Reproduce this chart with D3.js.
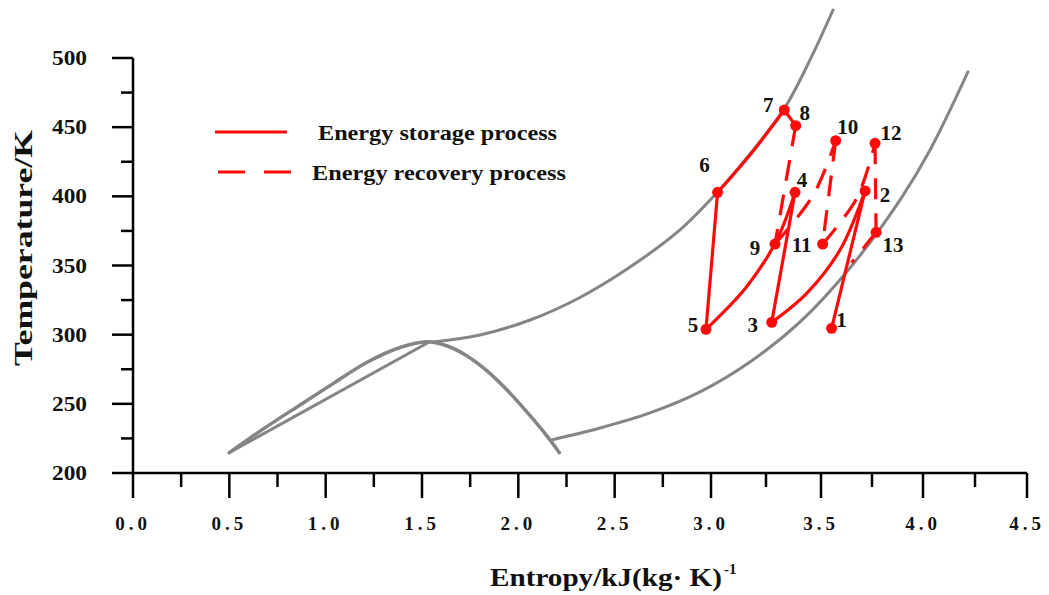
<!DOCTYPE html>
<html><head><meta charset="utf-8">
<script src="https://cdn.jsdelivr.net/npm/d3@7/dist/d3.min.js"></script>
<style>body{margin:0;background:#fff;} svg{display:block;}</style>
</head><body>
<script>
// ---- data ----
const xTicks = [0, 0.5, 1.0, 1.5, 2.0, 2.5, 3.0, 3.5, 4.0, 4.5];
const yTicks = [200, 250, 300, 350, 400, 450, 500];
// state points
const stateIds = ["1","2","3","4","5","6","7","8","9","10","11","12","13"];
const stateS = [3.552, 3.716, 3.276, 3.382, 2.974, 3.030, 3.333, 3.385, 3.291, 3.572, 3.508, 3.765, 3.770];
const stateT = [304.6, 403.9, 308.9, 402.9, 303.9, 402.9, 462.4, 451.1, 365.5, 440.2, 365.5, 438.3, 374.0];
// energy storage process (solid) paths: lists of [s,T]
const storagePaths = [
  [[3.552,304.6],[3.716,403.9]],
  [[3.716,403.9],[3.593,361.2],[3.435,329.9],[3.276,308.9]],
  [[3.276,308.9],[3.382,402.9]],
  [[3.382,402.9],[3.299,368.4],[3.162,334.7],[2.974,303.9]],
  [[2.974,303.9],[3.030,402.9]],
  [[3.030,402.9],[3.177,429.9],[3.333,462.4]],
  [[3.333,462.4],[3.385,451.1]]
];
// energy recovery process (dashed) paths
const recoveryPaths = [
  [[3.385,451.1],[3.291,365.5]],
  [[3.291,365.5],[3.465,401.0],[3.572,440.2]],
  [[3.572,440.2],[3.508,365.5]],
  [[3.508,365.5],[3.675,398.6],[3.765,438.3]],
  [[3.765,438.3],[3.770,374.0]],
  [[3.770,374.0],[3.650,352.0]]
];
// grey curves
const domeS = [0.500, 0.694, 0.867, 1.040, 1.213, 1.386, 1.524, 1.628, 1.732, 1.836, 1.940, 2.043, 2.147, 2.213];
const domeT = [214.7, 233.5, 249.2, 264.8, 279.9, 290.7, 294.9, 292.0, 284.8, 274.0, 260.2, 244.3, 227.0, 214.7];
const chordS = [0.500, 1.540];
const chordT = [214.7, 294.9];
const upperS = [1.557, 1.801, 2.061, 2.320, 2.580, 2.839, 3.030, 3.177, 3.332, 3.450, 3.559];
const upperT = [294.7, 299.8, 310.6, 326.9, 348.9, 375.7, 403.1, 430.6, 463.1, 498.6, 534.7];
const lowerS = [2.173, 2.424, 2.683, 2.943, 3.177, 3.405, 3.642, 3.887, 4.034, 4.216];
const lowerT = [223.9, 232.5, 243.4, 258.6, 280.2, 309.2, 348.2, 397.3, 433.5, 489.9];
const legendLabels = ["Energy storage process", "Energy recovery process"];
const xTitle = "Entropy/kJ(kg· K)";
const yTitle = "Temperature/K";

// ---- layout ----
const labelOff = [[10,-8],[20,4],[-19,3],[7,-12],[-13,-4],[-13,-27],[-16,-5],[9,-13],[-20,4],[12,-14],[-21,1],[16,-10],[17,13]];
const W = 1049, H = 595;
const svg = d3.select("body").append("svg").attr("width", W).attr("height", H);
const x = d3.scaleLinear().domain([0, 3, 3.5, 4, 4.5]).range([133, 711, 821, 923, 1027]);
const y = d3.scaleLinear().domain([200, 500]).range([473, 58]);
const FONT = "'Liberation Serif','Times New Roman',serif";
const RED = "#ff0a0a", GREY = "#858585";

const zip = (a, b) => a.map((v, i) => [v, b[i]]);
const line = d3.line().x(d => x(d[0])).y(d => y(d[1])).curve(d3.curveCatmullRom.alpha(0.5));
const lineL = d3.line().x(d => x(d[0])).y(d => y(d[1]));

// grey curves
const g0 = svg.append("g").attr("fill", "none").attr("stroke", GREY).attr("stroke-width", 3.5).attr("stroke-linecap", "round");
g0.append("path").attr("d", line(zip(domeS, domeT)));
g0.append("path").attr("d", lineL(zip(chordS, chordT))).attr("stroke-width", 3);
g0.append("path").attr("d", line(zip(upperS, upperT))).attr("stroke-width", 3);
g0.append("path").attr("d", line(zip(lowerS, lowerT))).attr("stroke-width", 3);

// axes
const ax = svg.append("g").attr("stroke", "#000").attr("stroke-width", 2.5).attr("fill", "none");
ax.append("line").attr("x1", x(0)).attr("x2", x(0)).attr("y1", y(500)).attr("y2", y(200));
ax.append("line").attr("x1", x(0)).attr("x2", x(4.5)).attr("y1", y(200)).attr("y2", y(200));
const yMinor = d3.range(225, 500, 50);
yTicks.forEach(t => ax.append("line").attr("x1", x(0) - 21).attr("x2", x(0)).attr("y1", y(t)).attr("y2", y(t)));
yMinor.forEach(t => ax.append("line").attr("x1", x(0) - 12).attr("x2", x(0)).attr("y1", y(t)).attr("y2", y(t)));
const xMinor = d3.range(0.25, 4.5, 0.5);
xTicks.forEach(t => ax.append("line").attr("x1", x(t)).attr("x2", x(t)).attr("y1", y(200)).attr("y2", y(200) + 25));
xMinor.forEach(t => ax.append("line").attr("x1", x(t)).attr("x2", x(t)).attr("y1", y(200)).attr("y2", y(200) + 14));

const tl = svg.append("g").attr("font-family", FONT).attr("font-weight", "bold").attr("fill", "#111");
yTicks.forEach(t => tl.append("text").attr("x", 87).attr("y", y(t) + 7).attr("text-anchor", "end")
  .attr("font-size", 20).attr("textLength", 35).attr("lengthAdjust", "spacingAndGlyphs").text(t));
xTicks.forEach(t => tl.append("text").attr("x", x(t)).attr("y", 530).attr("text-anchor", "middle")
  .attr("font-size", 19).attr("letter-spacing", 4).text(t.toFixed(1)));

// axis titles
const xt = svg.append("text").attr("x", 490).attr("y", 586)
  .attr("font-family", FONT).attr("font-weight", "bold").attr("font-size", 25).attr("fill", "#111");
xt.append("tspan").attr("textLength", 232).attr("lengthAdjust", "spacingAndGlyphs").text(xTitle);
xt.append("tspan").attr("dx", 2).attr("dy", -12).attr("font-size", 15).text("-1");
svg.append("text").attr("transform", "translate(32,248) rotate(-90)").attr("text-anchor", "middle")
  .attr("font-family", FONT).attr("font-weight", "bold").attr("font-size", 25).attr("fill", "#111")
  .attr("textLength", 236).attr("lengthAdjust", "spacingAndGlyphs").text(yTitle);

// process lines
const gp = svg.append("g").attr("fill", "none").attr("stroke", RED).attr("stroke-width", 3.2);
storagePaths.forEach(p => gp.append("path").attr("d", p.length > 2 ? line(p) : lineL(p)));
recoveryPaths.forEach(p => gp.append("path").attr("d", p.length > 2 ? line(p) : lineL(p))
  .attr("stroke-dasharray", "21,14"));

// points
svg.append("g").selectAll("circle").data(stateIds).join("circle")
  .attr("cx", (d, i) => x(stateS[i])).attr("cy", (d, i) => y(stateT[i])).attr("r", 5.5).attr("fill", RED);
svg.append("g").attr("font-family", FONT).attr("font-weight", "bold").attr("font-size", 21).attr("fill", "#111")
  .selectAll("text").data(stateIds).join("text")
  .attr("x", (d, i) => x(stateS[i]) + labelOff[i][0]).attr("y", (d, i) => y(stateT[i]) + labelOff[i][1] + 7)
  .attr("text-anchor", "middle").text(d => d);

// legend
const lg = svg.append("g");
lg.append("line").attr("x1", 215).attr("x2", 287).attr("y1", 132).attr("y2", 132)
  .attr("stroke", RED).attr("stroke-width", 3.2);
lg.append("line").attr("x1", 218).attr("x2", 292).attr("y1", 172).attr("y2", 172)
  .attr("stroke", RED).attr("stroke-width", 3.2).attr("stroke-dasharray", "27,19");
lg.selectAll("text").data(legendLabels).join("text")
  .attr("x", (d, i) => i === 0 ? 318 : 312).attr("y", (d, i) => 140 + i * 40)
  .attr("font-family", FONT).attr("font-weight", "bold").attr("font-size", 21).attr("fill", "#111")
  .attr("textLength", (d, i) => i === 0 ? 239 : 254).attr("lengthAdjust", "spacingAndGlyphs")
  .text(d => d);
</script>
</body></html>
